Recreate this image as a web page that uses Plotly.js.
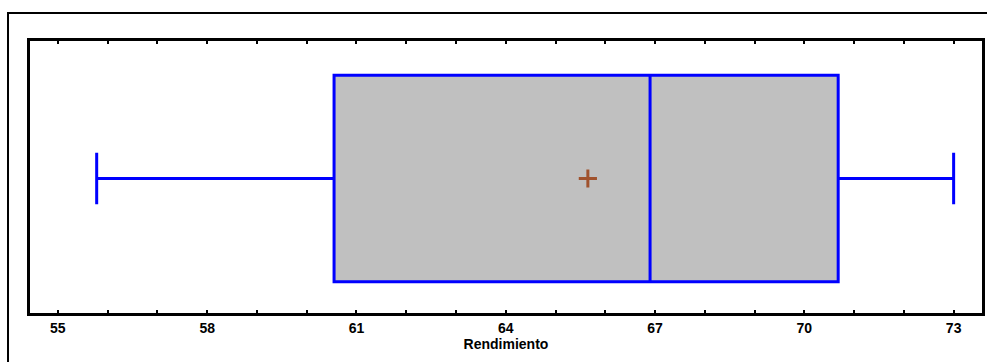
<!DOCTYPE html>
<html>
<head>
<meta charset="utf-8">
<script src="https://cdn.plot.ly/plotly-3.0.1.min.js"></script>
<style>
html,body{margin:0;padding:0;background:#fff;}
#chart{width:987px;height:362px;}
</style>
</head>
<body>
<div id="chart"></div>
<script>
// Summary statistics
var seriesName = ["Rendimiento"];
var minimum = [55.78];
var q1 = [60.55];
var median = [66.9];
var q3 = [70.68];
var maximum = [73.0];
var mean = [65.65];
var tickValues = [55, 58, 61, 64, 67, 70, 73];

var boxTrace = {
  type: 'box',
  orientation: 'h',
  y: [0],
  q1: q1,
  median: median,
  q3: q3,
  lowerfence: minimum,
  upperfence: maximum,
  width: 0.76,
  whiskerwidth: 0.25,
  fillcolor: '#C0C0C0',
  line: {color: '#0000FF', width: 3},
  boxpoints: false,
  hoverinfo: 'skip',
  showlegend: false
};

var meanTrace = {
  type: 'scatter',
  mode: 'markers',
  x: mean,
  y: [0],
  marker: {symbol: 'cross-thin', size: 13, line: {color: '#A0522D', width: 3}, color: '#A0522D'},
  hoverinfo: 'skip',
  showlegend: false
};

var layout = {
  width: 987,
  height: 362,
  margin: {l: 30, r: 5, t: 41, b: 49, pad: 0},
  paper_bgcolor: '#ffffff',
  plot_bgcolor: '#ffffff',
  showlegend: false,
  xaxis: {
    range: [54.44, 73.57],
    tickvals: tickValues,
    ticks: 'inside',
    ticklen: 3,
    tickwidth: 2,
    tickcolor: '#000',
    minor: {dtick: 1, ticks: 'inside', ticklen: 3, tickwidth: 2, tickcolor: '#000', tick0: 55},
    showgrid: false,
    zeroline: false,
    showline: true,
    linewidth: 3,
    linecolor: '#000',
    mirror: 'allticks',
    tickfont: {family: 'Liberation Sans, Arial, sans-serif', size: 14, color: '#000', weight: 'bold'},
    title: {text: seriesName[0], font: {family: 'Liberation Sans, Arial, sans-serif', size: 14, color: '#000', weight: 'bold'}, standoff: 0}
  },
  yaxis: {
    range: [-0.4945, 0.5055],
    showticklabels: false,
    ticks: '',
    showgrid: false,
    zeroline: false,
    showline: true,
    linewidth: 3,
    linecolor: '#000',
    mirror: true,
    fixedrange: true
  },
  shapes: [{
    type: 'rect', xref: 'paper', yref: 'paper',
    x0: -0.0231, x1: 1.2, y0: -0.5, y1: 1.103,
    line: {color: '#000', width: 2}, fillcolor: 'rgba(0,0,0,0)', layer: 'below'
  }]
};

Plotly.newPlot('chart', [boxTrace, meanTrace], layout, {staticPlot: true, displayModeBar: false});
</script>
</body>
</html>
